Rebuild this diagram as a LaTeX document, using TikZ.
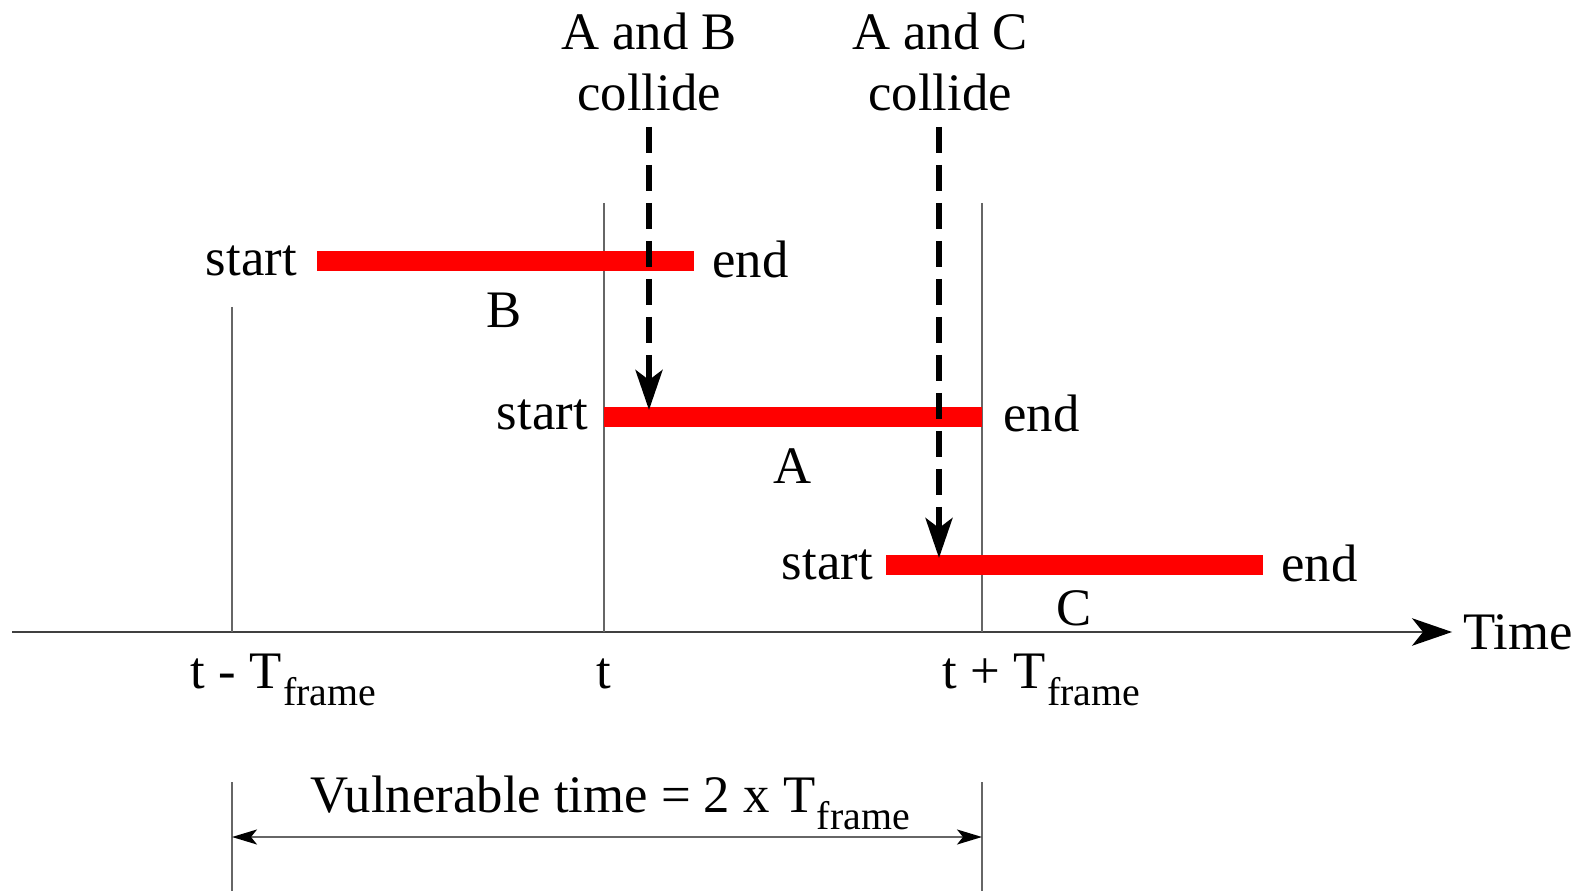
\documentclass[tikz,border=0pt]{standalone}
\usepackage{fontspec}
\setmainfont{Liberation Serif}
\usetikzlibrary{arrows.meta}
\newcommand{\Tfr}{T{\fontsize{22.7}{24}\selectfont\raisebox{-10pt}{\kern1pt frame}}}
\newcommand{\Tfrlap}{T\rlap{\fontsize{22.7}{24}\selectfont\raisebox{-10pt}{\kern1pt frame}}}
\begin{document}
\begin{tikzpicture}[x=0.02cm,y=-0.02cm,
  lbl/.style={font=\fontsize{30}{35}\selectfont, inner sep=0pt, text=black},
  guide/.style={draw=black!60, line width=1.1pt},
  frame bar/.style={draw=red, line width=11.3pt},
  collide/.style={draw=black, line width=3pt, dash pattern=on 0.52cm off 0.24cm,
    -{Stealth[length=0.8cm, width=0.54cm, inset=0.2cm]}},
  dim/.style={draw=black!60, line width=1.1pt,
    {Stealth[length=0.5cm, width=0.3cm, inset=0.12cm, black]}-{Stealth[length=0.5cm, width=0.3cm, inset=0.12cm, black]}}
]
\useasboundingbox (0,0) rectangle (1588,891);

% time axis
\coordinate (ax0) at (12,632);
\coordinate (ax1) at (1452,632);
\draw[draw=black!75, line width=1.2pt, -{Stealth[length=0.8cm, width=0.55cm, inset=0.22cm, black]}] (ax0) -- (ax1);
\node[lbl, anchor=west] (time) at (1463,632) {Time};

% reference instants
\coordinate (tm) at (232,632);
\coordinate (t0) at (604,632);
\coordinate (tp) at (982,632);
\draw[guide] (232,307) -- (tm);
\draw[guide] (604,203) -- (t0);
\draw[guide] (982,203) -- (tp);
\draw[guide] (232,782) -- (232,891);
\draw[guide] (982,782) -- (982,891);

\node[lbl, anchor=base] (ltm) at (236,688) {t - \Tfrlap};
\node[lbl, anchor=base] (lt0) at (604,688) {t};
\node[lbl, anchor=base] (ltp) at (994,688) {t + \Tfrlap};

% frames
\coordinate (Bs) at (317,261);
\coordinate (Be) at (694,261);
\coordinate (As) at (604,417);
\coordinate (Ae) at (982,417);
\coordinate (Cs) at (886,565);
\coordinate (Ce) at (1263,565);
\draw[frame bar] (Bs) -- (Be);
\draw[frame bar] (As) -- (Ae);
\draw[frame bar] (Cs) -- (Ce);

\node[lbl, anchor=east] (Bstart) at (297,261) {start};
\node[lbl, anchor=west] (Bend) at (712,259) {end};
\node[lbl] (Blbl) at (504,310) {B};
\node[lbl, anchor=east] (Astart) at (588,415) {start};
\node[lbl, anchor=west] (Aend) at (1003,413) {end};
\node[lbl] (Albl) at (793,466) {A};
\node[lbl, anchor=east] (Cstart) at (873,565) {start};
\node[lbl, anchor=west] (Cend) at (1281,563) {end};
\node[lbl] (Clbl) at (1074,608) {C};

% collisions
\node[lbl, align=center] (AB) at (649,62) {A and B\\collide};
\node[lbl, align=center] (AC) at (940,62) {A and C\\collide};
\coordinate (ABtop) at (649,127);
\coordinate (ABhit) at (649,410);
\coordinate (ACtop) at (939,127);
\coordinate (AChit) at (939,558);
\draw[collide] (ABtop) -- (ABhit);
\draw[collide] (ACtop) -- (AChit);

% vulnerable interval
\node[lbl, anchor=base] (vt) at (610,812) {Vulnerable time = 2 x \Tfr};
\coordinate (v0) at (232,837);
\coordinate (v1) at (982,837);
\draw[dim] (v0) -- (v1);
\end{tikzpicture}
\end{document}
